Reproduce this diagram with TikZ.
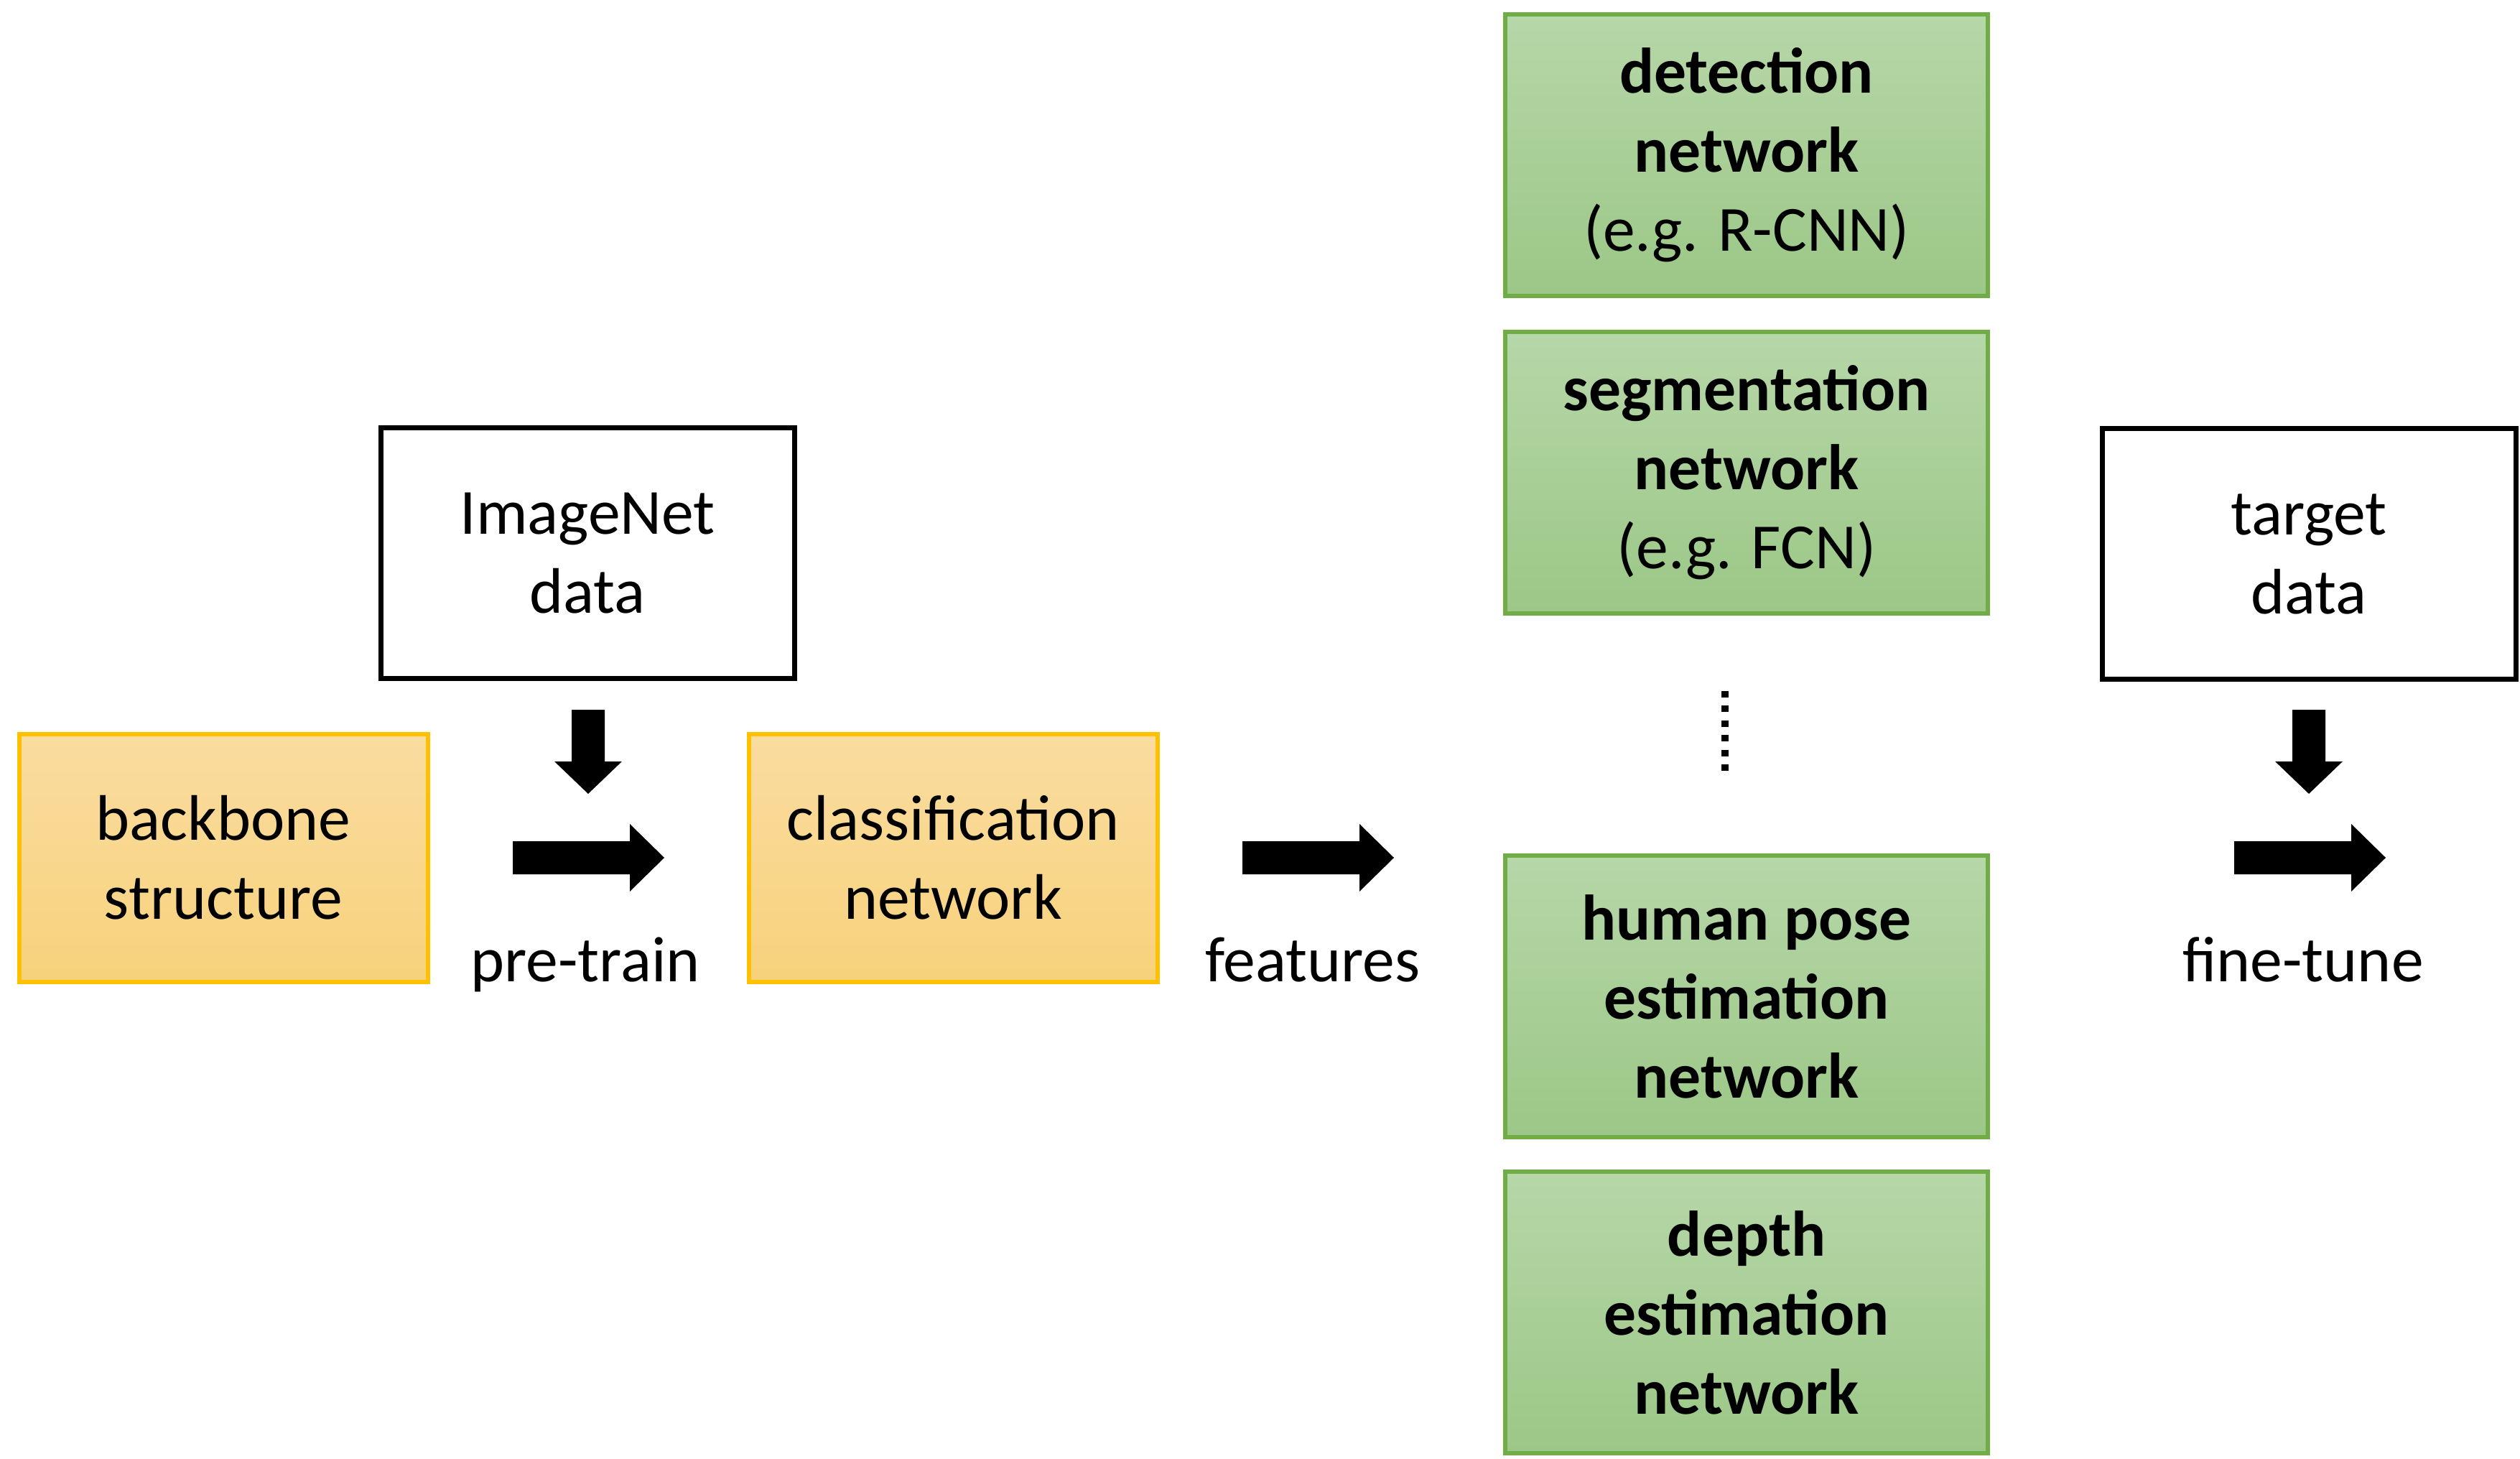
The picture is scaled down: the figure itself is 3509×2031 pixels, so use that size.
\documentclass[tikz,border=0pt]{standalone}
\usepackage{fontspec}
\setmainfont{Carlito}
\definecolor{orangeedge}{HTML}{FFC000}
\definecolor{orangetop}{HTML}{FADCA0}
\definecolor{orangebot}{HTML}{F7D27C}
\definecolor{greenedge}{HTML}{70AD47}
\definecolor{greentop}{HTML}{B6D7A8}
\definecolor{greenbot}{HTML}{9CC787}
% right-pointing block arrow, starting at the middle of its tail
\newcommand\rightblock[1]{\fill (#1) ++(0,-23) -- ++(163,0) -- ++(0,-24) -- ++(48,47) -- ++(-48,47) -- ++(0,-24) -- ++(-163,0) -- cycle;}
% downward block arrow, starting at the middle of its tail
\newcommand\downblock[1]{\fill (#1) ++(-23,0) -- ++(0,72) -- ++(-24,0) -- ++(47,45) -- ++(47,-45) -- ++(-24,0) -- ++(0,-72) -- cycle;}
\begin{document}
\begin{tikzpicture}[x=0.1mm, y=-0.1mm,
  txt/.style={font=\fontsize{25.5}{31.3}\selectfont, align=center, inner sep=0pt},
  databox/.style={txt, draw=black, line width=0.7mm, fill=white,
    minimum width=57.6mm, minimum height=34.9mm},
  netbox/.style={txt, draw=orangeedge, line width=0.6mm,
    top color=orangetop, bottom color=orangebot,
    minimum width=56.9mm, minimum height=34.5mm},
  taskbox/.style={txt, draw=greenedge, line width=0.6mm,
    top color=greentop, bottom color=greenbot,
    minimum width=67.2mm, minimum height=39.2mm,
    font=\fontsize{25.5}{31.3}\selectfont\bfseries},
  steplabel/.style={txt, anchor=base}]
\useasboundingbox (0,0) rectangle (3509,2031);

% data sources
\node[databox] (imagenet) at (818,770) {ImageNet\\data};
\node[databox] (target) at (3215,771) {target\\data};

% pre-training stage
\node[netbox] (backbone) at (311,1194) {backbone\\structure};
\node[netbox] (classif) at (1327,1194) {classification\\network};

% downstream task networks
\node[taskbox] (detect) at (2432,216) {detection\\network\\{\mdseries (e.g. R-CNN)}};
\node[taskbox] (segment) at (2432,658) {segmentation\\network\\{\mdseries (e.g. FCN)}};
\node[taskbox] (pose) at (2432,1387) {human pose\\estimation\\network};
\node[taskbox] (depth) at (2432,1827) {depth\\estimation\\network};

% vertical ellipsis between the task networks
\coordinate (dotstop) at (2402,962);
\coordinate (dotsbot) at (2402,1078);
\draw[line width=0.95mm, dash pattern=on 0.9mm off 1.15mm] (dotstop) -- (dotsbot);

% block arrows
\coordinate (imgdown) at (819,988);
\coordinate (tgtdown) at (3215,988);
\coordinate (pretrainarrow) at (714,1194);
\coordinate (featarrow) at (1730,1194);
\coordinate (finetunearrow) at (3111,1194);
\downblock{imgdown}
\downblock{tgtdown}
\rightblock{pretrainarrow}
\rightblock{featarrow}
\rightblock{finetunearrow}

% step labels
\node[steplabel] (pretrain) at (815,1366) {pre-train};
\node[steplabel] (features) at (1828,1366) {features};
\node[steplabel] (finetune) at (3207,1366) {fine-tune};
\end{tikzpicture}
\end{document}
